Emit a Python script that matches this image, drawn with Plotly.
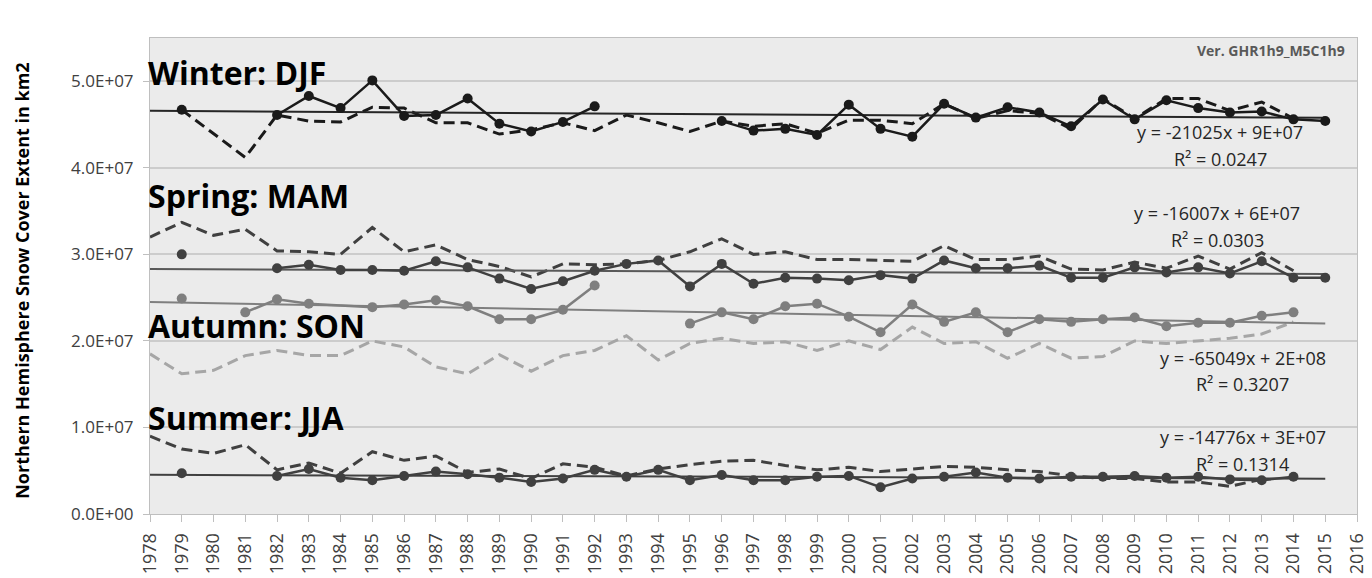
import plotly.graph_objects as go
import numpy as np

# ---------------- data (values in units of 1E+07 km2) ----------------
years = list(range(1978, 2016))
SCALE = 1e7

winter_solid = [None, 4.67, None, None, 4.61, 4.83, 4.69, 5.01, 4.60, 4.61,
                4.80, 4.51, 4.42, 4.53, 4.71, None, None, None, 4.54, 4.43,
                4.45, 4.38, 4.73, 4.45, 4.36, 4.74, 4.58, 4.70, 4.64, 4.48,
                4.79, 4.56, 4.78, 4.69, 4.64, 4.65, 4.56, 4.54]
winter_dashed = [None, 4.67, None, 4.12, 4.61, 4.54, 4.53, 4.70, 4.69, 4.52,
                 4.52, 4.39, 4.44, 4.52, 4.43, 4.61, 4.52, 4.42, 4.54, 4.48,
                 4.51, 4.40, 4.55, 4.55, 4.51, 4.74, 4.57, 4.66, 4.63, 4.45,
                 4.80, 4.57, 4.80, 4.80, 4.66, 4.76, 4.57, None]

spring_solid = [None, 3.00, None, None, 2.84, 2.88, 2.82, 2.82, 2.81, 2.92,
                2.85, 2.72, 2.60, 2.69, 2.81, 2.89, 2.93, 2.63, 2.89, 2.66,
                2.73, 2.72, 2.70, 2.76, 2.72, 2.93, 2.84, 2.84, 2.87, 2.73,
                2.73, 2.85, 2.79, 2.85, 2.78, 2.92, 2.73, 2.73]
spring_dashed = [3.20, 3.37, 3.22, 3.29, 3.04, 3.03, 3.00, 3.31, 3.03, 3.11,
                 2.94, 2.86, 2.74, 2.89, 2.88, 2.89, 2.93, 3.03, 3.18, 3.00,
                 3.03, 2.94, 2.94, 2.93, 2.92, 3.10, 2.94, 2.94, 2.98, 2.83,
                 2.82, 2.91, 2.84, 2.98, 2.83, 3.02, 2.81, None]

autumn_solid = [None, 2.49, None, 2.33, 2.48, 2.43, None, 2.39, 2.42, 2.47,
                2.40, 2.25, 2.25, 2.36, 2.64, None, None, 2.20, 2.33, 2.25,
                2.40, 2.43, 2.28, 2.10, 2.42, 2.22, 2.33, 2.10, 2.25, 2.22,
                2.25, 2.27, 2.17, 2.21, 2.21, 2.29, 2.33, None]
autumn_dashed = [1.85, 1.62, 1.66, 1.83, 1.89, 1.83, 1.83, 2.00, 1.93, 1.70,
                 1.62, 1.84, 1.65, 1.83, 1.89, 2.06, 1.78, 1.97, 2.03, 1.97,
                 1.99, 1.89, 2.00, 1.90, 2.16, 1.97, 1.99, 1.80, 1.97, 1.80,
                 1.82, 2.00, 1.97, 2.00, 2.03, 2.08, 2.22, None]

summer_solid = [None, 0.47, None, None, 0.44, 0.52, 0.42, 0.39, 0.44, 0.49,
                0.46, 0.42, 0.37, 0.41, 0.51, 0.43, 0.51, 0.39, 0.45, 0.39,
                0.39, 0.43, 0.44, 0.31, 0.41, 0.43, 0.48, 0.42, 0.41, 0.43,
                0.43, 0.44, 0.42, 0.43, 0.40, 0.39, 0.43, None]
summer_dashed = [0.90, 0.75, 0.70, 0.80, 0.51, 0.59, 0.47, 0.72, 0.62, 0.67,
                 0.48, 0.52, 0.41, 0.58, 0.54, 0.44, 0.52, 0.57, 0.61, 0.62,
                 0.56, 0.51, 0.54, 0.49, 0.52, 0.55, 0.54, 0.51, 0.49, 0.44,
                 0.41, 0.41, 0.37, 0.37, 0.32, 0.40, None, None]

# single missing years across which the solid line is drawn through
bridged_years = {"autumn": [1984]}

season_labels = ["Winter: DJF", "Spring: MAM", "Autumn: SON", "Summer: JJA"]
trend_equations = ["y = -21025x + 9E+07", "y = -16007x + 6E+07",
                   "y = -65049x + 2E+08", "y = -14776x + 3E+07"]
trend_r2 = ["R² = 0.0247", "R² = 0.0303", "R² = 0.3207", "R² = 0.1314"]
version_text = "Ver. GHR1h9_M5C1h9"
y_title = "Northern Hemisphere Snow Cover Extent in km2"

y_tickvals = [0, 1e7, 2e7, 3e7, 4e7, 5e7]
y_ticktext = ["0.0E+00", "1.0E+07", "2.0E+07", "3.0E+07", "4.0E+07", "5.0E+07"]
x_tickvals = list(range(1978, 2017))

# ---------------- helpers ----------------
def scaled(vals):
    return [None if v is None else v * SCALE for v in vals]

def segment_xy(vals, bridges=()):
    """Break the line at missing years, except the listed bridged years."""
    xs, ys = [], []
    for yr, v in zip(years, vals):
        if v is None:
            if yr not in bridges and xs and xs[-1] is not None:
                xs.append(None); ys.append(None)
            continue
        xs.append(yr); ys.append(v * SCALE)
    return xs, ys

def trend(vals):
    x = np.array([yr for yr, v in zip(years, vals) if v is not None], float)
    y = np.array([v * SCALE for v in vals if v is not None], float)
    k, b = np.polyfit(x, y, 1)
    xe = [years[0], years[-1]]
    return xe, [k * xx + b for xx in xe]

fig = go.Figure()

series = [
    ("winter", winter_solid, winter_dashed, "#1a1a1a", "#1a1a1a", "#262626"),
    ("spring", spring_solid, spring_dashed, "#404040", "#404040", "#595959"),
    ("autumn", autumn_solid, autumn_dashed, "#7f7f7f", "#a6a6a6", "#7f7f7f"),
    ("summer", summer_solid, summer_dashed, "#404040", "#404040", "#404040"),
]

for name, solid, dashed, c_solid, c_dash, c_trend in series:
    fig.add_trace(go.Scatter(x=years, y=scaled(dashed), mode="lines",
                             connectgaps=True,
                             line=dict(color=c_dash, width=3, dash="11px,6px")))
    tx, ty = trend(solid)
    fig.add_trace(go.Scatter(x=tx, y=ty, mode="lines",
                             line=dict(color=c_trend, width=2)))
    sx, sy = segment_xy(solid, bridged_years.get(name, ()))
    fig.add_trace(go.Scatter(x=sx, y=sy, mode="lines", connectgaps=False,
                             line=dict(color=c_solid, width=2.5)))
    fig.add_trace(go.Scatter(x=years, y=scaled(solid), mode="markers",
                             marker=dict(color=c_solid, size=10)))

# season labels
label_y = [5.10e7, 3.68e7, 2.18e7, 1.11e7]
for txt, yv in zip(season_labels, label_y):
    fig.add_annotation(x=0, xref="paper", y=yv, yref="y", text=txt,
                       showarrow=False, xanchor="left", yanchor="middle",
                       xshift=-4,
                       font=dict(family="Open Sans", size=32, color="#000000",
                                 weight="bold"))

# trend equations
eq_pos = [(2011.7, 4.41e7, 4.10e7), (2011.6, 3.48e7, 3.17e7),
          (2012.4, 1.80e7, 1.50e7), (2012.4, 0.89e7, 0.58e7)]
for (xc, y1, y2), eq, r2 in zip(eq_pos, trend_equations, trend_r2):
    fig.add_annotation(x=xc, y=y1, text=eq, showarrow=False,
                       font=dict(family="Open Sans", size=18, color="#262626"))
    fig.add_annotation(x=xc, y=y2, text=r2, showarrow=False,
                       font=dict(family="Open Sans", size=18, color="#262626"))

fig.add_annotation(x=2015.7, y=5.36e7, text=version_text, showarrow=False,
                   xanchor="right",
                   font=dict(family="Open Sans", size=14, color="#595959",
                             weight="bold"))

fig.add_annotation(xref="paper", yref="paper", x=-0.106, y=0.49,
                   text=y_title, textangle=-90, showarrow=False,
                   xanchor="center", yanchor="middle",
                   font=dict(family="Open Sans", size=18, color="#000000",
                             weight="bold"))

fig.update_layout(
    width=1372, height=578,
    margin=dict(l=142, r=22, t=30, b=58),
    plot_bgcolor="#ebebeb", paper_bgcolor="#ffffff",
    showlegend=False,
    font=dict(family="Open Sans", color="#404040"),
)
fig.update_xaxes(range=[1978, 2016], tickvals=x_tickvals, tickangle=-90,
                 tickfont=dict(size=18, color="#404040"),
                 showgrid=False, zeroline=False,
                 showline=True, linecolor="#bfbfbf", linewidth=1, mirror=True,
                 ticks="outside", ticklen=7, tickcolor="#bfbfbf",
                 ticklabelstandoff=4)
fig.update_yaxes(range=[0, 5.5e7], tickvals=y_tickvals, ticktext=y_ticktext,
                 tickfont=dict(size=17, color="#404040"),
                 showgrid=True, gridcolor="#cccccc", gridwidth=1.5,
                 zeroline=False,
                 showline=True, linecolor="#bfbfbf", linewidth=1, mirror=True,
                 ticks="outside", ticklen=6, tickcolor="#bfbfbf",
                 ticklabelstandoff=6)

fig.write_html("out.html")
